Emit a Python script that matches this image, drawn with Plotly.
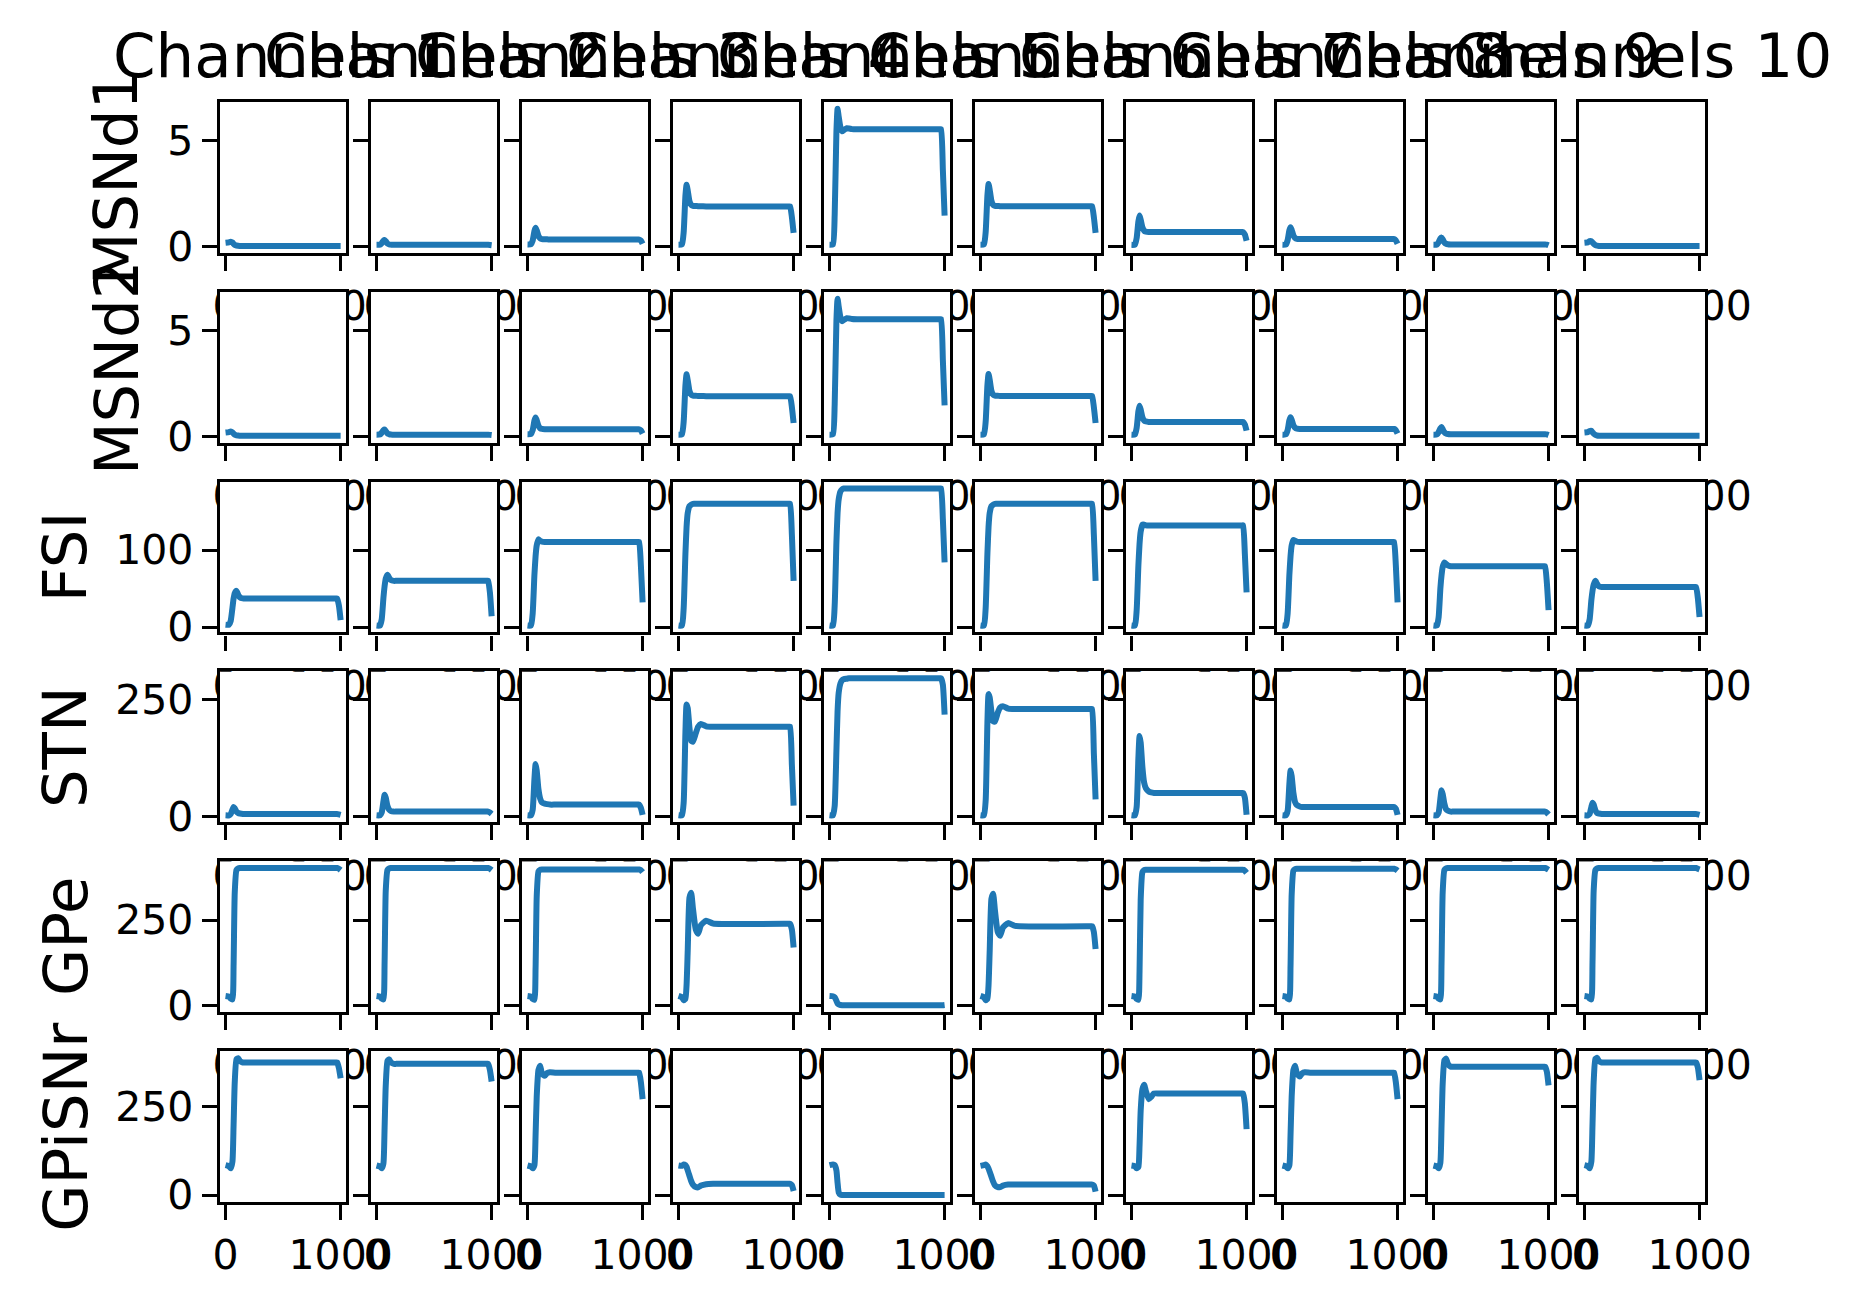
import plotly.graph_objects as go

# ---------------- data ----------------
T = [0, 30, 45, 60, 70, 80, 95, 110, 125, 150, 170, 195, 240, 300, 960, 970, 985, 1000]

CHANNELS = ["Channels 1", "Channels 2", "Channels 3", "Channels 4", "Channels 5",
            "Channels 6", "Channels 7", "Channels 8", "Channels 9", "Channels 10"]
POPULATIONS = ["MSNd1", "MSNd2", "FSI", "STN", "GPe", "GPiSNr"]

X_TICKS = [0, 1000]
X_TICK_TEXT = ["0", "1000"]
Y_TICKS = [[0, 5], [0, 5], [0, 100], [0, 250], [0, 250], [0, 250]]

MSND1 = [
    [0.20, 0.22, 0.25, 0.21, 0.15, 0.10, 0.07, 0.06, 0.05, 0.05, 0.05, 0.05, 0.05, 0.05, 0.05, 0.05, 0.05, 0.05],
    [0.10, 0.11, 0.18, 0.30, 0.33, 0.27, 0.16, 0.12, 0.11, 0.10, 0.10, 0.10, 0.10, 0.10, 0.10, 0.10, 0.09, 0.08],
    [0.12, 0.13, 0.30, 0.75, 0.90, 0.78, 0.52, 0.40, 0.37, 0.36, 0.36, 0.35, 0.35, 0.35, 0.35, 0.35, 0.30, 0.15],
    [0.10, 0.12, 0.70, 2.40, 2.92, 2.65, 2.15, 1.97, 1.93, 1.92, 1.91, 1.91, 1.90, 1.90, 1.90, 1.90, 1.40, 0.66],
    [0.10, 0.12, 1.50, 5.40, 6.47, 6.10, 5.60, 5.42, 5.48, 5.56, 5.55, 5.52, 5.51, 5.51, 5.51, 5.51, 3.60, 1.47],
    [0.10, 0.12, 0.70, 2.40, 2.95, 2.68, 2.16, 1.97, 1.93, 1.92, 1.91, 1.91, 1.91, 1.91, 1.91, 1.91, 1.40, 0.66],
    [0.10, 0.11, 0.42, 1.20, 1.47, 1.28, 0.92, 0.76, 0.72, 0.70, 0.70, 0.70, 0.70, 0.70, 0.70, 0.70, 0.58, 0.29],
    [0.10, 0.11, 0.32, 0.78, 0.93, 0.80, 0.54, 0.42, 0.38, 0.37, 0.37, 0.37, 0.37, 0.37, 0.37, 0.37, 0.31, 0.15],
    [0.10, 0.11, 0.22, 0.40, 0.45, 0.36, 0.21, 0.15, 0.13, 0.12, 0.12, 0.12, 0.12, 0.12, 0.12, 0.12, 0.11, 0.08],
    [0.20, 0.22, 0.27, 0.27, 0.21, 0.15, 0.09, 0.06, 0.05, 0.05, 0.05, 0.05, 0.05, 0.05, 0.05, 0.05, 0.05, 0.05],
]

MSND2 = [
    [0.20, 0.22, 0.25, 0.21, 0.15, 0.10, 0.07, 0.06, 0.05, 0.05, 0.05, 0.05, 0.05, 0.05, 0.05, 0.05, 0.05, 0.05],
    [0.10, 0.11, 0.19, 0.31, 0.34, 0.27, 0.16, 0.12, 0.11, 0.10, 0.10, 0.10, 0.10, 0.10, 0.10, 0.10, 0.09, 0.08],
    [0.12, 0.13, 0.31, 0.76, 0.91, 0.78, 0.52, 0.40, 0.37, 0.36, 0.36, 0.35, 0.35, 0.35, 0.35, 0.35, 0.30, 0.15],
    [0.10, 0.12, 0.72, 2.42, 2.94, 2.66, 2.16, 1.98, 1.94, 1.93, 1.92, 1.92, 1.91, 1.91, 1.91, 1.91, 1.40, 0.65],
    [0.10, 0.12, 1.52, 5.45, 6.50, 6.12, 5.62, 5.44, 5.50, 5.58, 5.57, 5.54, 5.53, 5.53, 5.53, 5.53, 3.60, 1.48],
    [0.10, 0.12, 0.72, 2.42, 2.96, 2.68, 2.16, 1.98, 1.94, 1.93, 1.92, 1.92, 1.92, 1.92, 1.92, 1.92, 1.40, 0.65],
    [0.10, 0.11, 0.42, 1.20, 1.46, 1.28, 0.92, 0.76, 0.72, 0.70, 0.70, 0.70, 0.70, 0.70, 0.70, 0.70, 0.58, 0.29],
    [0.10, 0.11, 0.32, 0.78, 0.92, 0.80, 0.54, 0.42, 0.38, 0.37, 0.37, 0.37, 0.37, 0.37, 0.37, 0.37, 0.31, 0.15],
    [0.10, 0.11, 0.22, 0.40, 0.46, 0.36, 0.21, 0.15, 0.13, 0.12, 0.12, 0.12, 0.12, 0.12, 0.12, 0.12, 0.11, 0.08],
    [0.20, 0.22, 0.27, 0.28, 0.21, 0.15, 0.09, 0.06, 0.05, 0.05, 0.05, 0.05, 0.05, 0.05, 0.05, 0.05, 0.05, 0.05],
]

FSI = [
    [3, 3, 8, 25, 37, 44, 47, 42, 38.5, 37.2, 37, 37, 37, 37, 37, 37, 28, 9],
    [2, 2, 10, 38, 53, 63, 68, 64, 61, 60, 60, 60, 60, 60, 60, 60, 45, 14],
    [2, 2, 18, 68, 92, 106, 114, 112, 111, 110.5, 110.5, 110.5, 110.5, 110.5, 110.5, 110.5, 80, 32],
    [2, 2, 25, 95, 130, 148, 157, 159, 160, 160, 160, 160, 160, 160, 160, 160, 120, 60],
    [2, 2, 28, 110, 148, 166, 176, 179, 180, 180, 180, 180, 180, 180, 180, 180, 140, 84],
    [2, 2, 25, 95, 130, 148, 157, 159, 160, 160, 160, 160, 160, 160, 160, 160, 120, 60],
    [2, 2, 22, 80, 108, 124, 133, 133, 132, 132, 132, 132, 132, 132, 132, 132, 95, 45],
    [2, 2, 18, 68, 92, 106, 113, 112, 111, 110.5, 110.5, 110.5, 110.5, 110.5, 110.5, 110.5, 80, 32],
    [2, 2, 13, 50, 67, 78, 84, 82, 80, 79, 79, 79, 79, 79, 79, 79, 58, 22],
    [2, 2, 10, 35, 47, 55, 60, 56, 53, 52, 52, 52, 52, 52, 52, 52, 38, 13],
]

STN = [
    [2, 2, 5, 14, 20, 17, 10, 7, 6, 5, 5, 5, 5, 5, 5, 5, 4, 3],
    [2, 2, 8, 32, 46, 40, 22, 14, 11, 10, 10, 10, 10, 10, 10, 10, 8, 5],
    [2, 2, 14, 80, 112, 98, 58, 38, 30, 27, 26, 25, 25, 25, 25, 25, 18, 3],
    [2, 2, 30, 180, 240, 232, 190, 162, 160, 178, 192, 198, 193, 192, 192, 192, 110, 23],
    [2, 2, 22, 140, 225, 265, 285, 292, 294, 295, 296, 296, 296, 296, 296, 296, 282, 218],
    [2, 2, 34, 200, 262, 255, 225, 204, 203, 222, 233, 236, 231, 230, 230, 230, 135, 36],
    [2, 2, 20, 125, 172, 158, 105, 72, 60, 53, 51, 50, 50, 50, 50, 50, 40, 3],
    [2, 2, 12, 70, 98, 86, 50, 30, 24, 21, 20, 20, 20, 20, 20, 20, 16, 3],
    [2, 2, 8, 38, 56, 48, 27, 15, 12, 10, 10, 10, 10, 10, 10, 10, 8, 4],
    [2, 2, 5, 20, 29, 25, 13, 7, 6, 5, 5, 5, 5, 5, 5, 5, 4, 3],
]

GPE = [
    [28, 26, 20, 18, 120, 330, 396, 401, 402, 402, 402, 402, 402, 402, 402, 402, 400, 396],
    [28, 26, 20, 18, 125, 335, 396, 401, 402, 402, 402, 402, 402, 402, 402, 402, 400, 396],
    [28, 26, 19, 17, 110, 320, 392, 397, 398, 398, 398, 398, 398, 398, 398, 398, 396, 390],
    [28, 24, 15, 20, 60, 160, 315, 330, 285, 222, 210, 235, 248, 240, 239, 239, 222, 170],
    [28, 27, 24, 14, 6, 3, 1.5, 1, 1, 1, 1, 1, 1, 1, 1, 1, 1, 1.5],
    [28, 24, 15, 20, 60, 160, 312, 327, 280, 215, 204, 228, 241, 233, 232, 232, 215, 165],
    [28, 26, 19, 17, 100, 310, 390, 396, 397, 397, 397, 397, 397, 397, 397, 397, 394, 388],
    [28, 26, 20, 18, 115, 325, 394, 399, 400, 400, 400, 400, 400, 400, 400, 400, 398, 394],
    [28, 26, 20, 18, 120, 330, 396, 401, 402, 402, 402, 402, 402, 402, 402, 402, 400, 397],
    [28, 26, 20, 18, 125, 335, 396, 401, 402, 402, 402, 402, 402, 402, 402, 402, 400, 398],
]

GPISNR = [
    [85, 82, 76, 95, 200, 320, 385, 388, 380, 376, 376, 376, 376, 376, 376, 376, 360, 331],
    [84, 81, 76, 90, 190, 310, 380, 385, 376, 372, 372, 372, 372, 372, 372, 372, 355, 322],
    [84, 81, 76, 85, 170, 280, 355, 367, 345, 338, 346, 348, 347, 347, 347, 347, 320, 272],
    [84, 83, 87, 85, 80, 70, 55, 40, 30, 23, 22, 27, 31, 32, 32, 32, 28, 12],
    [85, 87, 85, 70, 35, 8, 1, 0.5, 0.5, 0.5, 0.5, 0.5, 0.5, 0.5, 0.5, 0.5, 0.5, 0.5],
    [83, 85, 87, 82, 75, 66, 52, 38, 28, 23, 23, 27, 30, 30, 30, 30, 27, 10],
    [84, 82, 76, 80, 140, 240, 300, 313, 295, 272, 278, 288, 288, 288, 288, 288, 260, 187],
    [84, 81, 76, 85, 170, 280, 355, 367, 345, 336, 345, 348, 347, 347, 347, 347, 320, 272],
    [84, 81, 76, 92, 195, 315, 382, 387, 372, 364, 364, 364, 364, 364, 364, 364, 350, 311],
    [85, 82, 76, 95, 200, 320, 386, 389, 380, 376, 376, 376, 376, 376, 376, 376, 362, 326],
]

ROWS = [MSND1, MSND2, FSI, STN, GPE, GPISNR]

# ---------------- layout geometry (pixels) ----------------
W, H = 1868, 1309
LEFT0, PITCH_X, PANEL_W = 219.0, 155.4, 130.3
TOP0, PITCH_Y, PANEL_H = 103.5, 192.6, 153.0
YLABEL_X = [112, 112, 60, 60, 60, 60]
TITLE_Y = 56
X_RANGE = [-50, 1050]

LINE_COLOR = "#1f77b4"
FONT = "DejaVu Sans"
AXW = 3.3
TICK_FONT = 41
BIG_FONT = 61

fig = go.Figure()
layout = dict(
    width=W, height=H,
    margin=dict(l=0, r=0, t=0, b=0),
    paper_bgcolor="white", plot_bgcolor="white",
    showlegend=False,
    font=dict(family=FONT, color="black"),
)

annotations = []
shapes = []
for r, rowdata in enumerate(ROWS):
    flat = [v for s in rowdata for v in s]
    lo, hi = min(flat), max(flat)
    pad = 0.05 * (hi - lo)
    yr = [lo - pad, hi + pad]
    top = TOP0 + PITCH_Y * r
    for c, series in enumerate(rowdata):
        k = r * 10 + c + 1
        sfx = "" if k == 1 else str(k)
        left = LEFT0 + PITCH_X * c
        fig.add_trace(go.Scatter(
            x=T, y=series, mode="lines",
            line=dict(color=LINE_COLOR, width=6, shape="spline", smoothing=0.5),
            xaxis="x" + sfx, yaxis="y" + sfx,
            hoverinfo="skip", showlegend=False,
        ))
        # opaque axes face (like a matplotlib axes patch) drawn in this subplot's own layer
        shapes.append(dict(
            type="rect", xref="x" + sfx, yref="y" + sfx,
            x0=X_RANGE[0], x1=X_RANGE[1], y0=yr[0], y1=yr[1],
            fillcolor="white", line=dict(width=0), layer="below",
        ))
        layout["xaxis" + sfx] = dict(
            domain=[left / W, (left + PANEL_W) / W],
            anchor="y" + sfx,
            range=X_RANGE,
            tickmode="array", tickvals=X_TICKS, ticktext=X_TICK_TEXT,
            ticks="outside", ticklen=15, tickwidth=AXW, tickcolor="black",
            showline=True, linecolor="black", linewidth=AXW, mirror=True,
            showgrid=False, zeroline=False, tickangle=0,
            tickfont=dict(family=FONT, size=TICK_FONT, color="black"),
        )
        layout["yaxis" + sfx] = dict(
            domain=[1 - (top + PANEL_H) / H, 1 - top / H],
            anchor="x" + sfx,
            range=yr,
            tickmode="array", tickvals=Y_TICKS[r],
            ticks="outside", ticklen=15, tickwidth=AXW, tickcolor="black",
            showline=True, linecolor="black", linewidth=AXW, mirror=True,
            showgrid=False, zeroline=False,
            showticklabels=(c == 0),
            tickfont=dict(family=FONT, size=TICK_FONT, color="black"),
        )
    annotations.append(dict(
        text=POPULATIONS[r], textangle=-90,
        x=YLABEL_X[r] / W, y=1 - (top + PANEL_H / 2) / H,
        xref="paper", yref="paper", xanchor="center", yanchor="middle",
        showarrow=False, font=dict(family=FONT, size=BIG_FONT, color="black"),
    ))

for c, name in enumerate(CHANNELS):
    left = LEFT0 + PITCH_X * c
    annotations.append(dict(
        text=name, x=(left + PANEL_W / 2) / W, y=1 - TITLE_Y / H,
        xref="paper", yref="paper", xanchor="center", yanchor="middle",
        showarrow=False, font=dict(family=FONT, size=BIG_FONT, color="black"),
    ))

layout["annotations"] = annotations
layout["shapes"] = shapes
fig.update_layout(**layout)
fig.write_html("out.html")
